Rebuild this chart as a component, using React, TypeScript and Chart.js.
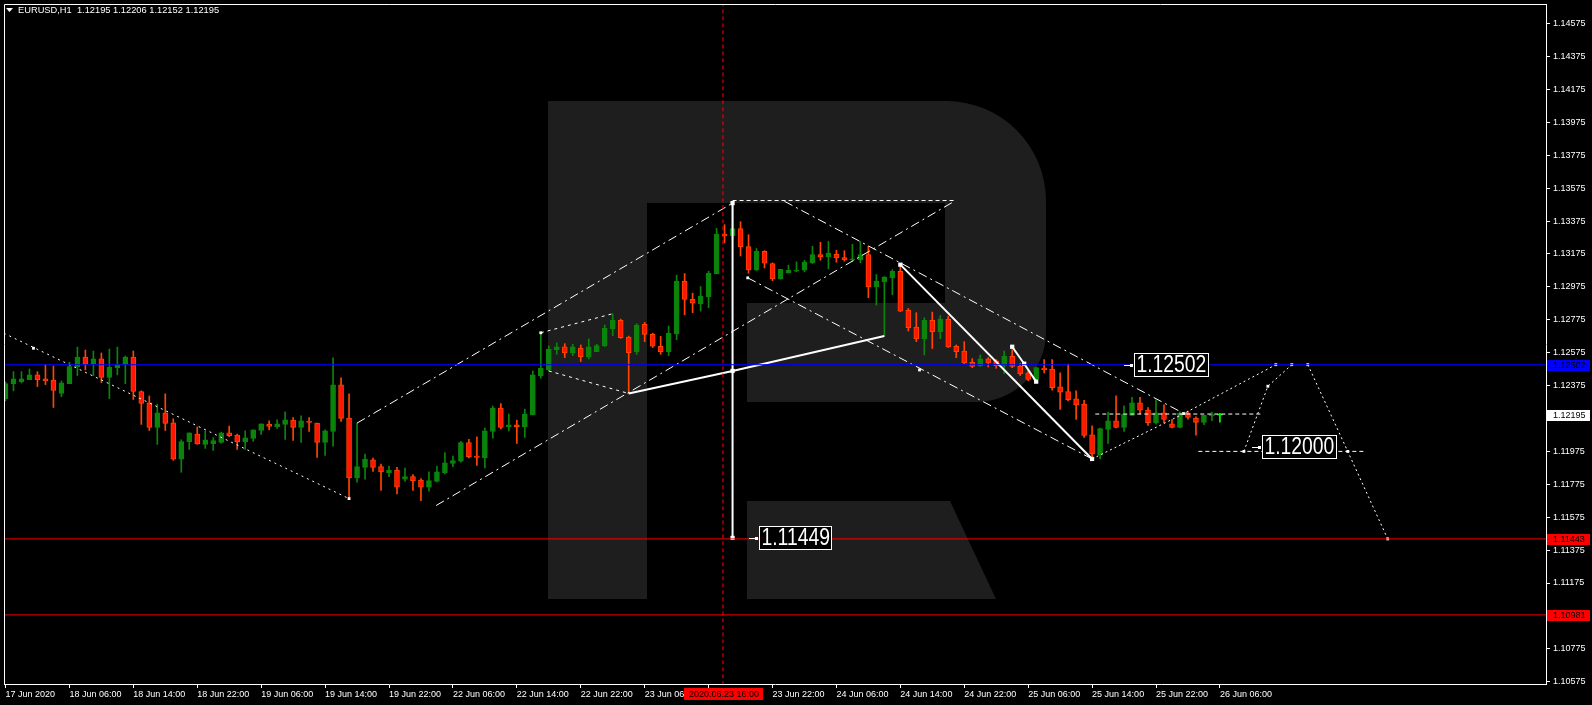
import { useEffect, useRef } from 'react';
import { Chart, registerables } from 'chart.js';

Chart.register(...registerables);

// ---------- DATA ----------
const titleText = 'EURUSD,H1  1.12195 1.12206 1.12152 1.12195';

const tickLabels = [
  '17 Jun 2020', '18 Jun 06:00', '18 Jun 14:00', '18 Jun 22:00', '19 Jun 06:00',
  '19 Jun 14:00', '19 Jun 22:00', '22 Jun 06:00', '22 Jun 14:00', '22 Jun 22:00',
  '23 Jun 06:00', '23 Jun 14:00', '23 Jun 22:00', '24 Jun 06:00', '24 Jun 14:00',
  '24 Jun 22:00', '25 Jun 06:00', '25 Jun 14:00', '25 Jun 22:00', '26 Jun 06:00',
];

const yTickValues = [
  1.10575, 1.10775, 1.10975, 1.11175, 1.11375, 1.11575, 1.11775, 1.11975, 1.12175, 1.12375,
  1.12575, 1.12775, 1.12975, 1.13175, 1.13375, 1.13575, 1.13775, 1.13975, 1.14175, 1.14375, 1.14575,
];

const opens = [
  1.12296, 1.12387, 1.12399, 1.12411, 1.12440, 1.12416, 1.12409, 1.12327, 1.12387, 1.12490,
  1.12549, 1.12508, 1.12537, 1.12424, 1.12484, 1.12504, 1.12549, 1.12339, 1.12270, 1.12121,
  1.12209, 1.12149, 1.11927, 1.12034, 1.12080, 1.12018, 1.12022, 1.12030, 1.12088, 1.12074,
  1.12032, 1.12054, 1.12102, 1.12141, 1.12125, 1.12139, 1.12165, 1.12121, 1.12155, 1.12147,
  1.12030, 1.12096, 1.12379, 1.12177, 1.11814, 1.11878, 1.11923, 1.11882, 1.11846, 1.11862,
  1.11806, 1.11822, 1.11801, 1.11757, 1.11793, 1.11846, 1.11902, 1.11915, 1.12028, 1.11947,
  1.11935, 1.12096, 1.12238, 1.12125, 1.12137, 1.12125, 1.12197, 1.12436, 1.12472, 1.12593,
  1.12610, 1.12573, 1.12602, 1.12549, 1.12581, 1.12616, 1.12719, 1.12771, 1.12670, 1.12579,
  1.12747, 1.12686, 1.12614, 1.12581, 1.12690, 1.13010, 1.12900, 1.12872, 1.12915, 1.13054,
  1.13294, 1.13284, 1.13329, 1.13220, 1.13078, 1.13191, 1.13117, 1.13024, 1.13060, 1.13070,
  1.13076, 1.13121, 1.13171, 1.13157, 1.13173, 1.13153, 1.13139, 1.13139, 1.13171, 1.12975,
  1.13005, 1.13030, 1.13070, 1.12832, 1.12731, 1.12658, 1.12771, 1.12703, 1.12779, 1.12614,
  1.12585, 1.12517, 1.12496, 1.12537, 1.12525, 1.12498, 1.12553, 1.12492, 1.12452, 1.12412,
  1.12482, 1.12476, 1.12367, 1.12339, 1.12294, 1.12262, 1.12076, 1.11955, 1.12109, 1.12161,
  1.12121, 1.12194, 1.12270, 1.12226, 1.12149, 1.12210, 1.12143, 1.12121, 1.12206, 1.12177,
  1.12151, 1.12192, 1.12195,
];

const highs = [
  1.12397, 1.12460, 1.12460, 1.12476, 1.12460, 1.12502, 1.12494, 1.12403, 1.12517, 1.12609,
  1.12591, 1.12585, 1.12573, 1.12597, 1.12609, 1.12555, 1.12585, 1.12343, 1.12312, 1.12262,
  1.12325, 1.12173, 1.12046, 1.12088, 1.12123, 1.12098, 1.12058, 1.12092, 1.12129, 1.12080,
  1.12100, 1.12106, 1.12143, 1.12161, 1.12167, 1.12216, 1.12181, 1.12191, 1.12181, 1.12147,
  1.12106, 1.12543, 1.12422, 1.12325, 1.12147, 1.11959, 1.11935, 1.11898, 1.11886, 1.11878,
  1.11874, 1.11834, 1.11810, 1.11850, 1.11886, 1.11967, 1.11947, 1.12036, 1.12048, 1.12064,
  1.12117, 1.12250, 1.12266, 1.12202, 1.12165, 1.12232, 1.12464, 1.12696, 1.12616, 1.12634,
  1.12630, 1.12626, 1.12622, 1.12658, 1.12626, 1.12743, 1.12812, 1.12779, 1.12676, 1.12751,
  1.12759, 1.12694, 1.12674, 1.12737, 1.13046, 1.13056, 1.12937, 1.12977, 1.13070, 1.13331,
  1.13353, 1.13484, 1.13371, 1.13292, 1.13208, 1.13195, 1.13121, 1.13082, 1.13107, 1.13127,
  1.13137, 1.13222, 1.13246, 1.13252, 1.13198, 1.13195, 1.13234, 1.13250, 1.13222, 1.13050,
  1.13038, 1.13080, 1.13110, 1.12844, 1.12818, 1.12787, 1.12822, 1.12801, 1.12797, 1.12622,
  1.12642, 1.12539, 1.12561, 1.12545, 1.12533, 1.12585, 1.12593, 1.12509, 1.12464, 1.12488,
  1.12533, 1.12533, 1.12452, 1.12505, 1.12343, 1.12286, 1.12131, 1.12117, 1.12214, 1.12313,
  1.12252, 1.12303, 1.12303, 1.12242, 1.12288, 1.12258, 1.12169, 1.12214, 1.12220, 1.12185,
  1.12194, 1.12214, 1.12206,
];

const lows = [
  1.12282, 1.12343, 1.12391, 1.12411, 1.12369, 1.12381, 1.12242, 1.12308, 1.12387, 1.12436,
  1.12470, 1.12436, 1.12393, 1.12296, 1.12440, 1.12387, 1.12290, 1.12139, 1.12102, 1.12018,
  1.12102, 1.11921, 1.11848, 1.11987, 1.12018, 1.11993, 1.11981, 1.12024, 1.12064, 1.11987,
  1.11987, 1.12036, 1.12078, 1.12106, 1.12115, 1.12048, 1.12042, 1.12030, 1.12096, 1.11939,
  1.11951, 1.12006, 1.12157, 1.11688, 1.11788, 1.11806, 1.11854, 1.11737, 1.11822, 1.11717,
  1.11793, 1.11737, 1.11676, 1.11733, 1.11789, 1.11838, 1.11882, 1.11909, 1.11935, 1.11890,
  1.11874, 1.12056, 1.12111, 1.12100, 1.12024, 1.12060, 1.12197, 1.12420, 1.12464, 1.12565,
  1.12545, 1.12557, 1.12521, 1.12537, 1.12581, 1.12612, 1.12678, 1.12662, 1.12327, 1.12565,
  1.12642, 1.12606, 1.12565, 1.12557, 1.12654, 1.12805, 1.12818, 1.12828, 1.12848, 1.13054,
  1.13242, 1.13260, 1.13163, 1.13058, 1.13074, 1.13090, 1.13012, 1.13022, 1.13058, 1.13066,
  1.13066, 1.13117, 1.13137, 1.13084, 1.13125, 1.13131, 1.13129, 1.13121, 1.12909, 1.12864,
  1.12676, 1.12927, 1.12824, 1.12707, 1.12642, 1.12561, 1.12600, 1.12660, 1.12606, 1.12545,
  1.12508, 1.12484, 1.12492, 1.12488, 1.12480, 1.12448, 1.12484, 1.12436, 1.12404, 1.12408,
  1.12452, 1.12347, 1.12230, 1.12282, 1.12169, 1.12060, 1.11929, 1.11929, 1.12024, 1.12117,
  1.12097, 1.12194, 1.12202, 1.12133, 1.12141, 1.12149, 1.12117, 1.12117, 1.12171, 1.12074,
  1.12137, 1.12161, 1.12152,
];

const closes = [
  1.12387, 1.12416, 1.12416, 1.12440, 1.12411, 1.12403, 1.12345, 1.12391, 1.12490, 1.12549,
  1.12504, 1.12537, 1.12424, 1.12488, 1.12502, 1.12549, 1.12339, 1.12266, 1.12121, 1.12209,
  1.12145, 1.11927, 1.12034, 1.12088, 1.12020, 1.12046, 1.12040, 1.12088, 1.12070, 1.12032,
  1.12058, 1.12106, 1.12143, 1.12127, 1.12143, 1.12167, 1.12121, 1.12161, 1.12151, 1.12030,
  1.12100, 1.12379, 1.12175, 1.11814, 1.11882, 1.11927, 1.11878, 1.11850, 1.11862, 1.11757,
  1.11822, 1.11797, 1.11757, 1.11797, 1.11850, 1.11906, 1.11919, 1.12028, 1.11943, 1.11939,
  1.12100, 1.12238, 1.12121, 1.12137, 1.12125, 1.12202, 1.12440, 1.12480, 1.12597, 1.12610,
  1.12573, 1.12610, 1.12551, 1.12610, 1.12618, 1.12723, 1.12771, 1.12666, 1.12575, 1.12743,
  1.12686, 1.12614, 1.12581, 1.12692, 1.13010, 1.12898, 1.12876, 1.12919, 1.13058, 1.13296,
  1.13286, 1.13329, 1.13220, 1.13078, 1.13191, 1.13119, 1.13024, 1.13082, 1.13076, 1.13076,
  1.13125, 1.13171, 1.13157, 1.13179, 1.13151, 1.13139, 1.13143, 1.13171, 1.12975, 1.13010,
  1.13034, 1.13070, 1.12828, 1.12727, 1.12658, 1.12771, 1.12703, 1.12779, 1.12610, 1.12581,
  1.12513, 1.12492, 1.12537, 1.12513, 1.12496, 1.12553, 1.12492, 1.12448, 1.12412, 1.12484,
  1.12472, 1.12363, 1.12335, 1.12290, 1.12258, 1.12072, 1.11959, 1.12113, 1.12161, 1.12121,
  1.12202, 1.12270, 1.12226, 1.12149, 1.12210, 1.12169, 1.12121, 1.12206, 1.12181, 1.12151,
  1.12194, 1.12198, 1.12195,
];

const blueLevel = 1.12502;
const redLevels = [1.11443, 1.10981];
const lastPrice = 1.12195;
const cursorBar = 89.8;
const cursorText = '2020.06.23 16:00';

// drawn objects, as [bar index, price]
const leftTrend = [[-0.2, 1.12693], [43, 1.11688]];
const upChannelTop = [[44, 1.12147], [91, 1.13484]];
const upChannelBottom = [[53.9, 1.11646], [118.5, 1.13488]];
const topLevelLine = [[91, 1.135], [118.9, 1.135]];
const downChannelTop = [[97.5, 1.13495], [147.5, 1.12205]];
const downChannelBottom = [[92.9, 1.1303], [136, 1.11929]];
const smallUpper = [[67, 1.12696], [76, 1.12812]];
const smallLower = [[68, 1.12464], [78, 1.12327]];
const thickRise = [[78, 1.12327], [91, 1.12464], [110, 1.12676]];
const verticalDrop = [[91, 1.13484], [91, 1.11449]];
const thickFall = [[112, 1.1311], [136, 1.11929]];
const zigzag = [[126, 1.12611], [127.5, 1.12508], [129, 1.12399]];
const projUp = [[136, 1.11929], [147.5, 1.12205], [159, 1.12502]];
const projLevelA = [[136.4, 1.12202], [157.4, 1.12202]];
const projUp2 = [[155, 1.11975], [158, 1.12371], [161, 1.12502]];
const projLevelB = [[149.3, 1.11975], [170.2, 1.11975]];
const projDown = [[163, 1.12502], [168, 1.11975], [173, 1.11443]];

const arrowMarks = [
  [3.5, 1.12602], [43, 1.11688], [92.9, 1.1303], [114.4, 1.1247], [147.5, 1.12205],
  [155, 1.11975], [158, 1.12371], [159, 1.12502], [161, 1.12502], [163, 1.12502],
  [168, 1.11975], [173, 1.11443], [67, 1.12696],
];
const squareMarks = [
  [91, 1.13484], [91, 1.11449], [91, 1.12464], [112, 1.1311], [136, 1.11929],
  [126, 1.12611], [127.5, 1.12508], [129, 1.12399],
];

const boxTexts = ['1.12502', '1.12000', '1.11449'];
const boxAnchors = [[140, 1.12502], [156, 1.12], [93, 1.11449]];

// ---------- STYLE ----------
const FONT = "'Liberation Sans', Arial, sans-serif";
const GREEN = '#0b840b';
const RED = '#ff1500';
const ORANGE = '#ff4500';
const LIME = '#00ff00';

const idx = opens.map((_, i) => i);
const isDoji = (i: number) => closes[i] === opens[i];
const isBull = (i: number) => closes[i] > opens[i];
const bodyFill = idx.map((i) => (isDoji(i) ? LIME : isBull(i) ? GREEN : RED));
const bodyEdge = idx.map((i) => (isDoji(i) ? LIME : isBull(i) ? GREEN : ORANGE));

const toXY = (pts: number[][]) => pts.map(([x, y]) => ({ x, y }));

const lineDs = (pts: number[][], width: number, dash: number[], color = '#ffffff') => ({
  type: 'line' as const,
  data: toXY(pts),
  borderColor: color,
  borderWidth: width,
  borderDash: dash,
  pointRadius: 0,
  fill: false,
  tension: 0,
  order: 0,
});

const DASHDOT = [9, 4, 2, 4];

const decor = {
  id: 'mt4decor',
  beforeDraw(chart: any) {
    const { ctx, width, height } = chart;
    ctx.save();
    ctx.fillStyle = '#000000';
    ctx.fillRect(0, 0, width, height);
    ctx.restore();
  },
  beforeDatasetsDraw(chart: any) {
    const { ctx, chartArea: a } = chart;
    ctx.save();
    ctx.beginPath();
    ctx.rect(a.left, a.top, a.right - a.left, a.bottom - a.top);
    ctx.clip();
    ctx.fillStyle = '#1e1e1e';
    // watermark "R"
    ctx.fillRect(548, 101, 99, 498);
    ctx.beginPath();
    ctx.moveTo(647, 101);
    ctx.lineTo(946, 101);
    ctx.arcTo(1046, 101, 1046, 201, 100);
    ctx.lineTo(1046, 332);
    ctx.arcTo(1046, 402, 976, 402, 70);
    ctx.lineTo(747, 402);
    ctx.lineTo(747, 303);
    ctx.lineTo(945, 303);
    ctx.lineTo(945, 203);
    ctx.lineTo(647, 203);
    ctx.closePath();
    ctx.fill();
    ctx.beginPath();
    ctx.moveTo(747, 501);
    ctx.lineTo(950, 501);
    ctx.lineTo(996, 599);
    ctx.lineTo(747, 599);
    ctx.closePath();
    ctx.fill();
    ctx.restore();
  },
  afterDatasetsDraw(chart: any) {
    const { ctx } = chart;
    const xs = chart.scales.x;
    const ys = chart.scales.y;
    const SX = 0.84;
    ctx.save();
    ctx.font = `23px ${FONT}`;
    ctx.textBaseline = 'middle';
    boxTexts.forEach((t, k) => {
      const px = Math.round(xs.getPixelForValue(boxAnchors[k][0]));
      const py = Math.round(ys.getPixelForValue(boxAnchors[k][1]));
      ctx.strokeStyle = '#ffffff';
      ctx.lineWidth = 1;
      ctx.beginPath();
      ctx.moveTo(px, py + 0.5);
      ctx.lineTo(px + 8, py + 0.5);
      ctx.stroke();
      ctx.fillStyle = '#ffffff';
      ctx.fillRect(px + 6, py - 1, 3, 3);
      const tw = ctx.measureText(t).width * SX;
      const bx = px + 10;
      const bw = Math.round(tw + 5);
      const bh = 24;
      ctx.fillStyle = '#000000';
      ctx.fillRect(bx, py - bh / 2, bw, bh);
      ctx.strokeRect(bx + 0.5, py - bh / 2 + 0.5, bw - 1, bh - 1);
      ctx.fillStyle = '#ffffff';
      ctx.save();
      ctx.translate(bx + 2.5, py + 1);
      ctx.scale(SX, 1);
      ctx.fillText(t, 0, 0);
      ctx.restore();
    });
    ctx.restore();
  },
  afterDraw(chart: any) {
    const { ctx, chartArea: a } = chart;
    const xs = chart.scales.x;
    const ys = chart.scales.y;
    ctx.save();
    // frame
    ctx.strokeStyle = '#ffffff';
    ctx.lineWidth = 1;
    ctx.beginPath();
    ctx.moveTo(a.left + 0.5, a.bottom);
    ctx.lineTo(a.left + 0.5, a.top + 0.5);
    ctx.lineTo(a.right, a.top + 0.5);
    ctx.stroke();
    // price tags on the right axis
    ctx.font = `9px ${FONT}`;
    ctx.textBaseline = 'middle';
    const tag = (v: number, bg: string) => {
      const py = Math.round(ys.getPixelForValue(v));
      ctx.fillStyle = bg;
      ctx.fillRect(a.right + 1, py - 5, 43, 11);
      ctx.fillStyle = '#000000';
      ctx.fillText(v.toFixed(5), a.right + 7, py + 0.5);
    };
    tag(blueLevel, '#0000ff');
    tag(lastPrice, '#ffffff');
    redLevels.forEach((v) => tag(v, '#ff0000'));
    // cursor date tag
    const cx = xs.getPixelForValue(cursorBar);
    ctx.fillStyle = '#ff0000';
    ctx.fillRect(Math.round(cx - 39), a.bottom + 4, 79, 12);
    ctx.fillStyle = '#000000';
    ctx.textAlign = 'center';
    ctx.fillText(cursorText, cx + 1, a.bottom + 10.5);
    // title
    ctx.textAlign = 'left';
    ctx.fillStyle = '#ffffff';
    ctx.beginPath();
    ctx.moveTo(6, 8);
    ctx.lineTo(13, 8);
    ctx.lineTo(9.5, 12);
    ctx.closePath();
    ctx.fill();
    ctx.font = `9.3px ${FONT}`;
    ctx.fillText(titleText, 18, 10.5);
    ctx.restore();
  },
};

export default function App() {
  const ref = useRef<HTMLCanvasElement>(null);
  useEffect(() => {
    document.body.style.margin = '0';
    document.body.style.background = '#000';
    const datasets: any[] = [
      {
        type: 'bar',
        data: idx.map((i) => ({ x: i, y: [opens[i], closes[i]] })),
        backgroundColor: bodyFill,
        borderColor: bodyEdge,
        borderWidth: 1,
        borderSkipped: false,
        barThickness: 5,
        minBarLength: 1,
        grouped: false,
        order: 1,
      },
      {
        type: 'bar',
        data: idx.map((i) => ({ x: i, y: [lows[i], highs[i]] })),
        backgroundColor: bodyEdge,
        borderWidth: 0,
        barThickness: 1,
        minBarLength: 1,
        grouped: false,
        order: 2,
      },
      lineDs([[-1, blueLevel], [200, blueLevel]], 1, [], '#0000ff'),
      ...redLevels.map((v) => lineDs([[-1, v], [200, v]], 1, [], '#ff0000')),
      lineDs([[cursorBar, 1.1], [cursorBar, 1.15]], 1, [4, 3], '#ff0000'),
      lineDs(leftTrend, 1, [2, 4]),
      lineDs(upChannelTop, 1, DASHDOT),
      lineDs(upChannelBottom, 1, DASHDOT),
      lineDs(topLevelLine, 1, [4, 3]),
      lineDs(downChannelTop, 1, DASHDOT),
      lineDs(downChannelBottom, 1, DASHDOT),
      lineDs(smallUpper, 1, [3, 4]),
      lineDs(smallLower, 1, [3, 4]),
      lineDs(thickRise, 2, []),
      lineDs(verticalDrop, 2, []),
      lineDs(thickFall, 2, []),
      lineDs(zigzag, 2, []),
      lineDs(projUp, 1, [2, 3]),
      lineDs(projLevelA, 1, [4, 3]),
      lineDs(projUp2, 1, [2, 3]),
      lineDs(projLevelB, 1, [4, 3]),
      lineDs(projDown, 1, [2, 3]),
      {
        type: 'line',
        data: toXY(arrowMarks),
        showLine: false,
        pointStyle: 'rect',
        pointRadius: 2,
        pointBackgroundColor: '#ffffff',
        pointBorderWidth: 0,
        order: 0,
      },
      {
        type: 'line',
        data: toXY(squareMarks),
        showLine: false,
        pointStyle: 'rect',
        pointRadius: 3,
        pointBackgroundColor: '#ffffff',
        pointBorderWidth: 0,
        order: 0,
      },
    ];

    const chart = new Chart(ref.current as HTMLCanvasElement, {
      type: 'bar',
      data: { datasets },
      options: {
        animation: false,
        responsive: false,
        maintainAspectRatio: false,
        devicePixelRatio: 1,
        events: [],
        layout: { padding: { top: 2, left: 2, right: 0, bottom: 0 } },
        plugins: { legend: { display: false }, tooltip: { enabled: false }, title: { display: false } },
        scales: {
          x: {
            type: 'linear',
            position: 'bottom',
            min: -0.1875,
            max: 192.8125,
            offset: false,
            grid: { display: true, drawOnChartArea: false, drawTicks: true, tickLength: 4, tickColor: '#ffffff', offset: false },
            border: { display: true, color: '#ffffff' },
            ticks: {
              autoSkip: false,
              maxRotation: 0,
              minRotation: 0,
              align: 'start',
              padding: 1,
              color: '#ffffff',
              font: { family: FONT, size: 9 },
              callback: (v: any) => tickLabels[Math.round(Number(v) / 8)] ?? '',
            },
            afterBuildTicks: (s: any) => {
              s.ticks = tickLabels.map((_, k) => ({ value: k * 8 }));
            },
            afterFit: (s: any) => {
              s.height = 21;
              s.paddingLeft = 0; s.paddingRight = 0; s.paddingTop = 0; s.paddingBottom = 0;
            },
          },
          y: {
            type: 'linear',
            position: 'right',
            min: 1.105611,
            max: 1.146944,
            grid: { display: true, drawOnChartArea: false, drawTicks: true, tickLength: 4, tickColor: '#ffffff' },
            border: { display: true, color: '#ffffff' },
            ticks: {
              padding: 3,
              color: '#ffffff',
              font: { family: FONT, size: 9 },
              callback: (v: any) => Number(v).toFixed(5),
            },
            afterBuildTicks: (s: any) => {
              s.ticks = yTickValues.map((v) => ({ value: v }));
            },
            afterFit: (s: any) => {
              s.width = 46;
              s.paddingLeft = 0; s.paddingRight = 0; s.paddingTop = 0; s.paddingBottom = 0;
            },
          },
        },
      } as any,
      plugins: [decor],
    } as any);
    return () => chart.destroy();
  }, []);

  return (
    <canvas
      ref={ref}
      width={1592}
      height={705}
      style={{ display: 'block', width: '1592px', height: '705px' }}
    />
  );
}
